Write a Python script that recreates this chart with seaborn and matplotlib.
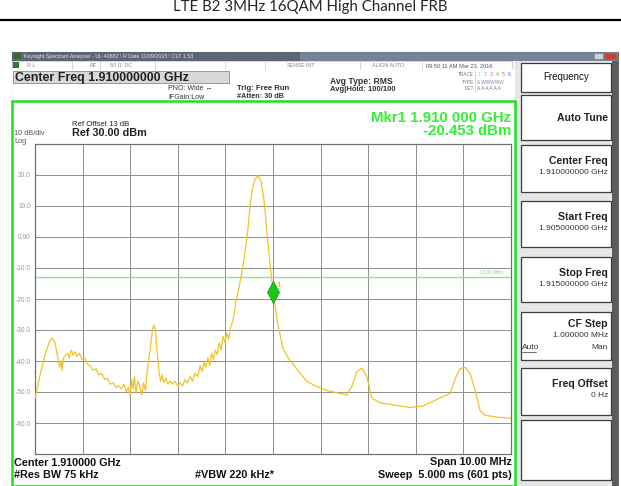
import matplotlib
matplotlib.use("Agg")
import matplotlib.pyplot as plt
from matplotlib.patches import Rectangle
import seaborn as sns
import pandas as pd

# trace: offset from start freq (MHz) and level (dBm)
freq_offset_mhz = [0.00, 0.10, 0.21, 0.31, 0.36, 0.42, 0.48, 0.52, 0.55, 0.57,
                   0.60, 0.65, 0.69, 0.72, 0.76, 0.80, 0.84, 0.88, 0.93, 0.99,
                   1.05, 1.10, 1.16, 1.22, 1.28, 1.34, 1.40, 1.47, 1.52, 1.58,
                   1.64, 1.70, 1.76, 1.82, 1.87, 1.92, 1.96, 2.00, 2.03, 2.06,
                   2.09, 2.12, 2.16, 2.20, 2.24, 2.28, 2.32, 2.36, 2.42, 2.48,
                   2.50, 2.53, 2.57, 2.61, 2.64, 2.67, 2.71, 2.75, 2.79, 2.84,
                   2.89, 2.94, 3.00, 3.05, 3.10, 3.15, 3.20, 3.26, 3.31, 3.36,
                   3.42, 3.47, 3.51, 3.55, 3.59, 3.63, 3.67, 3.71, 3.75, 3.79,
                   3.83, 3.87, 3.91, 3.95, 3.99, 4.03, 4.07, 4.11, 4.16, 4.22,
                   4.29, 4.35, 4.41, 4.47, 4.52, 4.56, 4.62, 4.68, 4.75, 4.81,
                   4.87, 4.94, 5.00, 5.10, 5.21, 5.32, 5.42, 5.57, 5.71, 5.88,
                   6.13, 6.41, 6.55, 6.66, 6.76, 6.87, 6.97, 7.08, 7.25, 7.46,
                   7.67, 7.88, 8.15, 8.36, 8.57, 8.72, 8.82, 8.93, 9.03, 9.14,
                   9.24, 9.35, 9.45, 9.66, 10.00]
level_dbm = [-52.0, -45.0, -38.0, -33.5, -32.6, -34.0, -39.0, -42.0, -40.0, -43.0,
             -39.0, -38.0, -37.5, -39.0, -36.5, -38.0, -37.0, -38.5, -37.5, -39.5,
             -39.0, -41.0, -41.5, -43.0, -42.5, -44.5, -44.0, -46.0, -45.5, -47.5,
             -47.0, -48.5, -48.0, -49.0, -47.5, -50.0, -48.5, -51.0, -46.0, -49.0,
             -45.0, -50.5, -46.5, -48.0, -51.0, -47.0, -49.5, -43.0, -36.0, -29.0,
             -28.4, -30.0, -38.0, -44.0, -46.5, -44.5, -47.0, -45.5, -47.5, -46.5,
             -47.5, -46.5, -48.0, -47.0, -48.0, -46.0, -47.0, -45.0, -46.5, -44.0,
             -45.0, -41.5, -43.5, -40.5, -42.0, -39.0, -41.5, -37.5, -39.5, -36.5,
             -38.0, -34.0, -36.5, -32.0, -34.0, -31.0, -33.0, -29.0, -27.0, -21.0,
             -16.0, -11.0, -5.0, 2.0, 10.0, 15.0, 18.5, 19.8, 18.0, 12.0,
             2.0, -9.0, -17.7, -28.0, -36.0, -39.0, -41.0, -44.0, -46.5, -48.0,
             -49.5, -50.5, -51.0, -48.0, -43.5, -42.3, -45.0, -52.0, -53.5, -54.0,
             -54.5, -55.0, -54.5, -53.0, -51.5, -50.5, -46.0, -42.5, -42.0, -44.0,
             -49.0, -56.0, -57.5, -58.0, -58.5]

start_ghz = 1.905
span_mhz = 10.0
ref_level = 30.0
db_per_div = 10.0
display_line = -13.0
marker_offset_mhz = 5.0
marker_level = -17.7
y_tick_labels = ["", "-60.0", "-50.0", "-40.0", "-30.0", "-20.0", "-10.0",
                 "0.00", "10.0", "20.0", ""]

# softkey: title, sub text, top, bottom, title offset from top
softkeys = [("Frequency", None, 63, 92, 0),
            ("Auto Tune", None, 95, 140, 0),
            ("Center Freq", "1.910000000 GHz", 145, 192, 16),
            ("Start Freq", "1.905000000 GHz", 201, 247, 16),
            ("Stop Freq", "1.915000000 GHz", 257, 302, 16),
            ("CF Step", "1.000000 MHz", 312, 360, 12),
            ("Freq Offset", "0 Hz", 368, 415, 16),
            ("", None, 420, 480, 0)]

W, H = 621, 486
sns.set_style("white")
plt.rcParams["font.family"] = ["Liberation Sans", "DejaVu Sans"]

fig = plt.figure(figsize=(W / 100, H / 100), dpi=100)

# overlay in pixel coordinates for the window chrome
ov = fig.add_axes([0, 0, 1, 1], zorder=-1)
ov.set_xlim(0, W)
ov.set_ylim(H, 0)
ov.axis("off")

fig.text(0.5, 1 - 7 / H, "LTE B2 3MHz 16QAM High Channel FRB", ha="center",
         va="center", fontsize=10.8, family=["Lato", "DejaVu Sans"])
ov.plot([0, W], [20, 20], color="black", lw=1.6)

# window frame
ov.add_patch(Rectangle((12, 52), 606, 434, facecolor="#f4f4f4", edgecolor="#6e6e6e", lw=0.8))
ov.add_patch(Rectangle((12, 52), 606, 9, facecolor="#5d6576", edgecolor="none"))
ov.add_patch(Rectangle((300, 52), 318, 9, facecolor="#8a97aa", edgecolor="none", alpha=0.6))
ov.add_patch(Rectangle((14, 53), 7, 6, facecolor="#3a6a2a", edgecolor="none"))
ov.text(24, 56.5, "Keysight Spectrum Analyzer - UL-40882 \\ R Date 11/09/2015 \\ CLT 1.53",
        fontsize=3.8, color="#e8e8e8", va="center")
ov.add_patch(Rectangle((594, 53), 9, 6, facecolor="#c9d3de", edgecolor="#777", lw=0.4))
ov.add_patch(Rectangle((604, 53), 12, 6, facecolor="#c8402e", edgecolor="#777", lw=0.4))

# status row
ov.add_patch(Rectangle((12, 61), 500, 8, facecolor="#ffffff", edgecolor="#c8c8c8", lw=0.5))
ov.add_patch(Rectangle((13, 62), 6, 6, facecolor="#2f7a2f", edgecolor="none"))
for x, s in [(27, "R L"), (90, "RF"), (110, "50 \u03a9  DC"), (287, "SENSE:INT"),
             (372, "ALIGN AUTO")]:
    ov.text(x, 65.5, s, fontsize=3.9, color="#888888", va="center")
ov.text(426, 65.5, "09:50:11 AM Mar 23, 2016", fontsize=4.1, color="#555555", va="center")
for x in [72, 100, 155, 225, 265, 360, 422]:
    ov.plot([x, x], [61, 69], color="#c8c8c8", lw=0.5)

# header area
ov.add_patch(Rectangle((12, 69), 503, 32, facecolor="white", edgecolor="none"))
ov.add_patch(Rectangle((13, 71), 216, 12, facecolor="#d8d8d8", edgecolor="#8a8a8a", lw=0.6))
ov.text(15, 77.5, "Center Freq 1.910000000 GHz", fontsize=8.9, fontweight="bold",
        color="#222222", va="center")
ov.text(168, 89, "PNO: Wide \u2194", fontsize=5.0, color="#333333", va="center")
ov.text(168, 97, "IFGain:Low", fontsize=5.0, color="#333333", va="center")
ov.text(237, 88, "Trig: Free Run", fontsize=5.6, fontweight="bold", color="#333333", va="center")
ov.text(237, 96.5, "#Atten: 30 dB", fontsize=5.2, fontweight="bold", color="#333333", va="center")
ov.text(330, 81, "Avg Type: RMS", fontsize=6.2, fontweight="bold", color="#333333", va="center")
ov.text(330, 89.5, "Avg|Hold: 100/100", fontsize=5.5, fontweight="bold", color="#333333", va="center")
ov.text(474, 75, "TRACE", fontsize=3.4, color="#777777", ha="right", va="center")
ov.text(474, 82, "TYPE", fontsize=3.4, color="#777777", ha="right", va="center")
ov.text(474, 89, "DET", fontsize=3.4, color="#777777", ha="right", va="center")
trace_cols = ["#e8d400", "#40c0e0", "#d060d0", "#40c040", "#e06060", "#6060e0"]
for i, c in enumerate(trace_cols):
    ov.text(478 + i * 6, 75, str(i + 1), fontsize=3.8, color=c, va="center")
ov.text(477, 82, "A WWWWW", fontsize=3.4, color="#9a7ab0", va="center")
ov.text(477, 89, "A A A A A A", fontsize=3.5, color="#777777", va="center")
ov.plot([475, 475], [71, 92], color="#bbbbbb", lw=0.4)

# softkey panel
ov.add_patch(Rectangle((515, 61), 103, 425, facecolor="#e6e6e6", edgecolor="none"))
ov.add_patch(Rectangle((612, 61), 6, 425, facecolor="#5c5c5c", edgecolor="none"))
for title, sub, y0, y1, toff in softkeys:
    ov.add_patch(Rectangle((521, y0), 90, y1 - y0, facecolor="white",
                           edgecolor="#3c3c3c", lw=0.9))
    if title == "Frequency":
        ov.text(566, (y0 + y1) / 2, title, fontsize=7.0, color="#111111",
                ha="center", va="center")
    elif title:
        ty = y0 + toff if sub else (y0 + y1) / 2
        ov.text(608, ty, title, fontsize=7.6, fontweight="bold", color="#222222",
                ha="right", va="center")
        if sub:
            ov.text(608, ty + 11, sub, fontsize=6.0, color="#333333", ha="right", va="center")
ov.text(522, 347, "Auto", fontsize=6.0, color="#333333", va="center")
ov.plot([522, 536], [351.5, 351.5], color="#333333", lw=0.5)
ov.text(608, 347, "Man", fontsize=6.0, color="#333333", ha="right", va="center")

# measurement area with green frame
ov.add_patch(Rectangle((12, 101), 503, 385, facecolor="white", edgecolor="#22dd22", lw=1.8))
ov.text(72, 124, "Ref Offset 13 dB", fontsize=5.6, color="#222222", va="center")
ov.text(72, 133, "Ref 30.00 dBm", fontsize=7.8, fontweight="bold", color="#222222", va="center")
ov.text(14, 133, "10 dB/div", fontsize=5.3, color="#555555", va="center")
ov.text(14, 141, "Log", fontsize=5.3, color="#555555", va="center")
ov.text(511, 118, "Mkr1 1.910 000 GHz", fontsize=10.8, fontweight="bold",
        color="#33ee33", ha="right", va="center")
ov.text(511, 131, "-20.453 dBm", fontsize=10.8, fontweight="bold",
        color="#33ee33", ha="right", va="center")
ov.text(14, 463, "Center 1.910000 GHz", fontsize=7.8, fontweight="bold", color="#111111", va="center")
ov.text(14, 475, "#Res BW 75 kHz", fontsize=7.8, fontweight="bold", color="#111111", va="center")
ov.text(195, 475, "#VBW 220 kHz*", fontsize=7.8, fontweight="bold", color="#111111", va="center")
ov.text(512, 462, "Span 10.00 MHz", fontsize=7.8, fontweight="bold", color="#111111",
        ha="right", va="center")
ov.text(512, 475, "Sweep  5.000 ms (601 pts)", fontsize=7.8, fontweight="bold",
        color="#111111", ha="right", va="center")

# the graticule and trace
gx0, gx1, gy0, gy1 = 35, 511, 144, 454
ax = fig.add_axes([gx0 / W, 1 - gy1 / H, (gx1 - gx0) / W, (gy1 - gy0) / H], zorder=1)
df = pd.DataFrame({"freq_ghz": [start_ghz + f / 1000 for f in freq_offset_mhz],
                   "level": level_dbm})
bottom = ref_level - 10 * db_per_div
ax.set_xlim(start_ghz, start_ghz + span_mhz / 1000)
ax.set_ylim(bottom, ref_level)
ax.set_xticks([start_ghz + i * span_mhz / 10000 for i in range(11)])
ax.set_yticks([bottom + i * db_per_div for i in range(11)])
ax.set_yticklabels(y_tick_labels)
ax.set_xticklabels([])
ax.tick_params(length=0, labelsize=4.8, labelcolor="#999999", pad=3)
ax.grid(True, color="#8e8e8e", lw=0.7)
for s in ax.spines.values():
    s.set_color("#707070")
    s.set_linewidth(0.9)

ax.axhline(display_line, color="#88e888", lw=1.0, zorder=2)
ax.text(0.985, display_line + 0.6, "-13.00 dBm", transform=ax.get_yaxis_transform(),
        fontsize=3.5, color="#88d888", ha="right", va="bottom")

sns.lineplot(data=df, x="freq_ghz", y="level", ax=ax, color="#f3c227", lw=0.9, zorder=3)
mk_x = start_ghz + marker_offset_mhz / 1000
ax.plot([mk_x], [marker_level], marker="d", markersize=11, color="#19c819",
        markeredgecolor="#0f8f0f", markeredgewidth=0.5, zorder=4)
ax.text(mk_x + 0.00008, marker_level + 1.5, "1", fontsize=6, color="#f0a020", zorder=4)
ax.set_xlabel("")
ax.set_ylabel("")

fig.savefig("out.png", dpi=100)
